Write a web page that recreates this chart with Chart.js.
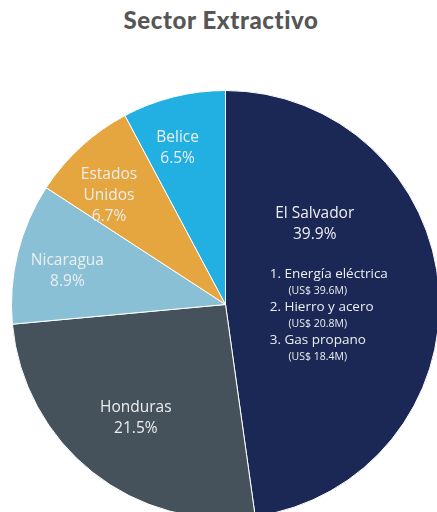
<!DOCTYPE html>
<html>
<head>
<meta charset="utf-8">
<script src="https://cdn.jsdelivr.net/npm/chart.js@4"></script>
<style>
  html, body { margin: 0; padding: 0; width: 437px; height: 512px; overflow: hidden; background: #fff; }
  h1 { position: absolute; top: 5px; left: 0; width: 442px; margin: 0; text-align: center;
       font-family: Lato, sans-serif; font-weight: 900; font-size: 24px; color: #565656; letter-spacing: 0.6px; }
  #wrap { position: absolute; left: 11px; top: 90px; width: 429px; height: 429px; }
</style>
</head>
<body>
<h1>Sector Extractivo</h1>
<div id="wrap"><canvas id="myChart"></canvas></div>
<script>
const paises = ['El Salvador', 'Honduras', 'Nicaragua', 'Estados Unidos', 'Belice'];
const porcentajes = [39.9, 21.5, 8.9, 6.7, 6.5];
const colores = ['#1b2754', '#45525b', '#89c0d6', '#e5a53f', '#22b0e2'];
const etiquetas = [['El Salvador'], ['Honduras'], ['Nicaragua'], ['Estados', 'Unidos'], ['Belice']];
const productos = ['1. Energía eléctrica', '2. Hierro y acero', '3. Gas propano'];
const montos = ['(US$ 39.6M)', '(US$ 20.8M)', '(US$ 18.4M)'];

const ctx = document.getElementById('myChart').getContext('2d');

// where each label sits: angle shift (deg) from the slice middle, and fraction of radius
const ajusteAng = [0, 0, -2, -4.5, -3];
const ajusteDist = [0.56, 0.675, 0.755, 0.745, 0.765];

const etiquetasPlugin = {
	id: 'etiquetas',
	afterDatasetsDraw(chart) {
		const c = chart.ctx;
		const arcs = chart.getDatasetMeta(0).data;
		c.save();
		c.textAlign = 'center';
		c.textBaseline = 'middle';
		c.fillStyle = '#eceef0';
		arcs.forEach((arc, i) => {
			const p = arc.getProps(['x', 'y', 'startAngle', 'endAngle', 'outerRadius'], true);
			let ang = (p.startAngle + p.endAngle) / 2 + ajusteAng[i] * Math.PI / 180;
			if (i === 0) ang = -Math.PI / 2 + 0.84;
			const x = p.x + Math.cos(ang) * p.outerRadius * ajusteDist[i];
			const y = p.y + Math.sin(ang) * p.outerRadius * ajusteDist[i];
			const lineas = etiquetas[i].concat([porcentajes[i].toFixed(1) + '%']);
			c.font = '15.5px "Open Sans", sans-serif';
			const lh = 21;
			const y0 = y - (lineas.length - 1) * lh / 2;
			lineas.forEach((t, k) => c.fillText(t, x, y0 + k * lh));
			if (i === 0) {
				let yy = y0 + 60;
				productos.forEach((t, k) => {
					c.textAlign = 'left';
					c.font = '13.5px "Open Sans", sans-serif';
					c.fillText(t, x - 45, yy);
					c.textAlign = 'center';
					c.font = '10.5px "Open Sans", sans-serif';
					c.fillText(montos[k], x + 3, yy + 17);
					yy += 33;
				});
			}
		});
		c.restore();
	}
};

const config = {
	type: 'pie',
	data: {
		labels: paises,
		datasets: [
			{
				data: porcentajes,
				backgroundColor: colores,
				borderColor: '#ffffff',
				borderWidth: 1,
				hoverOffset: 0,
			},
		],
	},
	options: {
		responsive: true,
		maintainAspectRatio: false,
		animation: false,
		layout: { padding: 0 },
		plugins: {
			legend: { display: false },
			tooltip: { enabled: false },
		},
	},
	plugins: [etiquetasPlugin],
};

const myChart = new Chart(ctx, config);
</script>
</body>
</html>
